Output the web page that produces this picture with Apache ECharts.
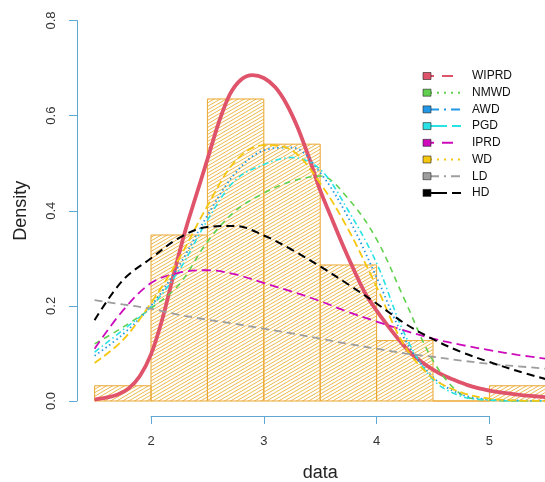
<!DOCTYPE html>
<html>
<head>
<meta charset="utf-8">
<script src="https://cdn.jsdelivr.net/npm/echarts@6/dist/echarts.min.js"></script>
<style>
html,body{margin:0;padding:0;background:#fff;}
#chart{width:545px;height:482px;}
</style>
</head>
<body>
<div id="chart"></div>
<script>
// ---- Data ----
const histBreaks = [1.5, 2.0, 2.5, 3.0, 3.5, 4.0, 4.5, 5.0, 5.5];
const histDensity = [0.032, 0.349, 0.635, 0.540, 0.286, 0.127, 0.0, 0.032];

const xTickLabels = ['2', '3', '4', '5'];
const yTickLabels = ['0.0', '0.2', '0.4', '0.6', '0.8'];

// fine grid for WIPRD
const xFine = [1.5,1.6,1.7,1.8,1.9,2.0,2.1,2.2,2.3,2.4,2.5,2.6,2.7,2.8,2.9,3.0,3.1,3.2,3.3,3.4,3.5,3.6,3.7,3.8,3.9,4.0,4.1,4.2,4.3,4.4,4.5,4.6,4.7,4.8,4.9,5.0,5.1,5.2,5.3,5.4,5.5];
const WIPRD = [0.003,0.007,0.013,0.026,0.052,0.098,0.172,0.265,0.355,0.432,0.508,0.585,0.645,0.676,0.685,0.679,0.660,0.625,0.575,0.512,0.443,0.385,0.328,0.275,0.226,0.190,0.158,0.128,0.101,0.082,0.066,0.053,0.043,0.034,0.027,0.022,0.018,0.015,0.012,0.010,0.008];

// coarse grid for the other fits
const xGrid = [1.5,1.75,2.0,2.25,2.5,2.75,3.0,3.25,3.5,3.75,4.0,4.25,4.5,4.75,5.0,5.25,5.5];
const NMWD = [0.120,0.155,0.195,0.245,0.335,0.400,0.437,0.462,0.473,0.425,0.340,0.212,0.085,0.014,0.002,0.000,0.000];
const AWD  = [0.095,0.140,0.200,0.285,0.390,0.480,0.527,0.533,0.480,0.385,0.260,0.130,0.050,0.014,0.003,0.001,0.000];
const PGD  = [0.103,0.149,0.198,0.275,0.380,0.465,0.497,0.512,0.487,0.400,0.290,0.140,0.045,0.010,0.002,0.000,0.000];
const IPRD = [0.110,0.190,0.248,0.270,0.275,0.266,0.248,0.230,0.210,0.187,0.167,0.148,0.131,0.118,0.107,0.097,0.089];
const WD   = [0.080,0.128,0.206,0.300,0.410,0.505,0.538,0.527,0.458,0.360,0.240,0.115,0.048,0.018,0.005,0.001,0.000];
const LD   = [0.212,0.203,0.194,0.181,0.171,0.162,0.152,0.142,0.131,0.120,0.110,0.100,0.093,0.085,0.078,0.073,0.068];
const HD   = [0.170,0.254,0.300,0.343,0.366,0.368,0.348,0.318,0.283,0.245,0.205,0.163,0.130,0.103,0.082,0.063,0.046];

const legendNames = ['WIPRD','NMWD','AWD','PGD','IPRD','WD','LD','HD'];
const legendColors = ['#DF536B','#61D04F','#2297E6','#28E2E5','#CD0BBC','#F5C710','#9E9E9E','#000000'];

// ---- Styles ----
const axisColor = '#5FA8D3';
const histStroke = '#EBA630';
const histHatch = '#EDB94F';
const FONT = '"Liberation Sans", Arial, sans-serif';

// hatch pattern
const pat = document.createElement('canvas');
pat.width = 12; pat.height = 7;
(function(){
  const c = pat.getContext('2d');
  c.strokeStyle = histHatch; c.lineWidth = 1;
  for (let k = -3; k <= 3; k++) {
    c.beginPath();
    c.moveTo(0, 7 + k*3.5);
    c.lineTo(12, 0 + k*3.5);
    c.stroke();
  }
})();

const histData = histDensity.map((d,i)=>[histBreaks[i], histBreaks[i+1], d]);

const curveDefs = [
  {name:'WIPRD', x:xFine, y:WIPRD, color:legendColors[0], width:3.8, type:'solid'},
  {name:'NMWD', x:xGrid, y:NMWD, color:legendColors[1], width:1.6, type:[6,5]},
  {name:'AWD', x:xGrid, y:AWD, color:legendColors[2], width:1.8, type:[1.5,3]},
  {name:'PGD', x:xGrid, y:PGD, color:legendColors[3], width:1.6, type:[6,3,1.5,3]},
  {name:'IPRD', x:xGrid, y:IPRD, color:legendColors[4], width:1.8, type:[9,5]},
  {name:'WD', x:xGrid, y:WD, color:legendColors[5], width:1.8, type:[8,4]},
  {name:'LD', x:xGrid, y:LD, color:legendColors[6], width:1.8, type:[8,5]},
  {name:'HD', x:xGrid, y:HD, color:legendColors[7], width:2, type:[8,5]}
];

const legendLineDash = [[11,8],[2,5],[2,5,9,5],[24,5],[11,8],[2,5],[2,5,9,5],[24,5]];

const series = [{
  type:'custom',
  xAxisIndex:0, yAxisIndex:0,
  clip:false,
  z:1,
  data: histData,
  renderItem: function(params, api){
    const p0 = api.coord([api.value(0), 0]);
    const p1 = api.coord([api.value(1), api.value(2)]);
    return {
      type:'rect',
      shape:{x:p0[0], y:p1[1], width:p1[0]-p0[0], height:p0[1]-p1[1]},
      style:{fill:{image:pat, repeat:'repeat'}, stroke:histStroke, lineWidth:1}
    };
  }
}];
curveDefs.forEach((c,i)=>{
  series.push({
    type:'line', name:c.name, xAxisIndex:0, yAxisIndex:0,
    data: c.x.map((x,j)=>[x, c.y[j]]),
    showSymbol:false, symbol:'none', smooth: c.x===xFine ? 0.3 : 0.35,
    z: 2+i,
    lineStyle:{color:c.color, width:c.width, type:c.type},
    silent:true, animation:false
  });
});

// legend graphic
const graphic = [];
legendNames.forEach((n,i)=>{
  const y = 76 + i*16.7;
  graphic.push({type:'line', shape:{x1:423, y1:y, x2:461, y2:y},
    style:{stroke:legendColors[i], lineWidth:2, lineDash:legendLineDash[i]}, z:100});
  graphic.push({type:'rect', shape:{x:423, y:y-3.5, width:8, height:7},
    style:{fill:legendColors[i], stroke:'#222', lineWidth:0.6}, z:101});
  graphic.push({type:'text', x:472, y:y, style:{text:n, fill:'#111', font:'12px '+FONT, textVerticalAlign:'middle', verticalAlign:'middle'}, z:101});
});

const chart = echarts.init(document.getElementById('chart'), null, {renderer:'canvas'});
chart.setOption({
  animation:false,
  backgroundColor:'#fff',
  grid:[
    {left:94.6, top:20.5, width:451.2, height:380.5, outerBoundsMode:'none', containLabel:false},
    {left:151, top:406, width:338.4, height:10, outerBoundsMode:'none', containLabel:false}
  ],
  xAxis:[
    {type:'value', gridIndex:0, min:1.5, max:5.5, show:false},
    {type:'value', gridIndex:1, min:2, max:5, interval:1, position:'bottom',
     axisLine:{show:true, lineStyle:{color:axisColor, width:1}},
     axisTick:{show:true, length:8, lineStyle:{color:axisColor}},
     axisLabel:{color:'#333', fontSize:13, fontFamily:FONT, margin:19,
       formatter:(v)=>xTickLabels[Math.round(v)-2]},
     splitLine:{show:false},
     name:'data', nameLocation:'middle', nameGap:48,
     nameTextStyle:{color:'#222', fontSize:18, fontFamily:FONT}}
  ],
  yAxis:[
    {type:'value', gridIndex:0, min:0, max:0.8, interval:0.2, offset:17.6,
     axisLine:{show:true, lineStyle:{color:axisColor, width:1}},
     axisTick:{show:true, length:8, lineStyle:{color:axisColor}},
     axisLabel:{color:'#333', fontSize:13, fontFamily:FONT, rotate:90, margin:19,
       formatter:(v)=>yTickLabels[Math.round(v*5)]},
     splitLine:{show:false},
     name:'Density', nameLocation:'middle', nameGap:47,
     nameTextStyle:{color:'#222', fontSize:18, fontFamily:FONT}},
    {type:'value', gridIndex:1, show:false}
  ],
  series: series,
  graphic: graphic
});
</script>
</body>
</html>
